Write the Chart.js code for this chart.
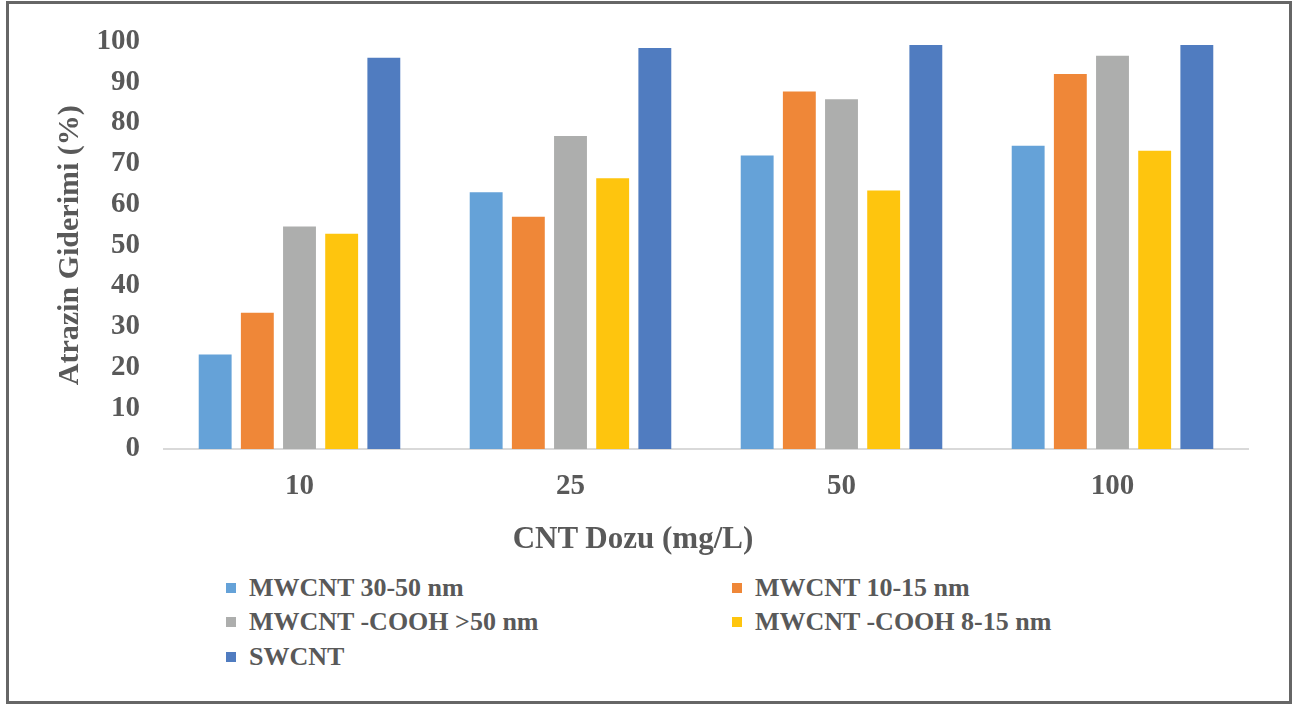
<!DOCTYPE html>
<html>
<head>
<meta charset="utf-8">
<script src="https://cdn.jsdelivr.net/npm/chart.js@4"></script>
<style>
  body { margin: 0; background: #fff; }
  #frame {
    position: absolute; left: 6px; top: 1px; width: 1286px; height: 703px;
    border: 3px solid #666; box-sizing: border-box;
  }
  #chartCanvas { position: absolute; left: 0; top: 0; }
  .txt { font-family: "Liberation Serif", "Times New Roman", serif; font-weight: bold; color: #595959; }
  #xTitle { position: absolute; left: 633px; top: 538px; transform: translate(-50%, -50%); font-size: 31px; white-space: nowrap; }
  .leg { position: absolute; font-size: 26px; white-space: nowrap; line-height: 30px; transform: translateY(-50%); }
  .leg span.box { display: inline-block; width: 10px; height: 10px; margin-right: 13px; vertical-align: middle; position: relative; top: -2px; }
</style>
</head>
<body>
<div id="frame"></div>
<canvas id="chartCanvas" width="1297" height="560"></canvas>
<div id="xTitle" class="txt">CNT Dozu (mg/L)</div>
<div id="legend"></div>
<script>
const doses = ["10", "25", "50", "100"];
const seriesNames = ["MWCNT 30-50 nm", "MWCNT 10-15 nm", "MWCNT -COOH >50 nm", "MWCNT -COOH 8-15 nm", "SWCNT"];
const mw3050 = [23.2, 63, 72, 74.4];
const mw1015 = [33.4, 57, 87.7, 92];
const cooh50 = [54.6, 76.8, 85.8, 96.5];
const cooh815 = [52.8, 66.4, 63.4, 73.2];
const swcnt = [96, 98.4, 99.1, 99.1];
const colors = ["#65A2D8", "#EF8738", "#ADAEAD", "#FEC50E", "#507CC0"];

const fontFam = '"Liberation Serif", "Times New Roman", serif';
const textCol = "#595959";

const values = [mw3050, mw1015, cooh50, cooh815, swcnt];

const chart = new Chart(document.getElementById("chartCanvas"), {
  type: "bar",
  data: {
    labels: doses,
    datasets: values.map((v, i) => ({
      label: seriesNames[i],
      data: v,
      backgroundColor: colors[i],
      borderWidth: 0,
      categoryPercentage: 0.778,
      barPercentage: 0.78
    }))
  },
  options: {
    responsive: false,
    animation: false,
    layout: { padding: { top: 39, right: 49, left: 0, bottom: 0 } },
    plugins: { legend: { display: false }, tooltip: { enabled: false } },
    scales: {
      x: {
        grid: { display: false, drawTicks: false, tickLength: 0 },
        border: { display: true, color: "#d9d9d9", width: 2 },
        ticks: { color: textCol, font: { family: fontFam, size: 29, weight: "bold" }, padding: 20 },
        afterFit: s => { s.height = 111; }
      },
      y: {
        min: 0, max: 100,
        grid: { display: false, drawTicks: false, tickLength: 0 },
        border: { display: false },
        ticks: { stepSize: 10, color: textCol, font: { family: fontFam, size: 29, weight: "bold" }, padding: 24 },
        title: {
          display: true, text: "Atrazin Giderimi (%)", color: textCol,
          font: { family: fontFam, size: 30, weight: "bold" },
          padding: { top: 52, bottom: 0 }
        },
        afterFit: s => { s.width = 164; }
      }
    }
  }
});

// legend in two columns, built from the chart datasets
const legPos = [[226, 588], [732, 588], [226, 622], [732, 622], [226, 657]];
const legend = document.getElementById("legend");
chart.data.datasets.forEach((ds, i) => {
  const d = document.createElement("div");
  d.className = "leg txt";
  d.style.left = legPos[i][0] + "px";
  d.style.top = legPos[i][1] + "px";
  d.innerHTML = '<span class="box" style="background:' + ds.backgroundColor + '"></span>';
  d.appendChild(document.createTextNode(ds.label));
  legend.appendChild(d);
});
</script>
</body>
</html>
